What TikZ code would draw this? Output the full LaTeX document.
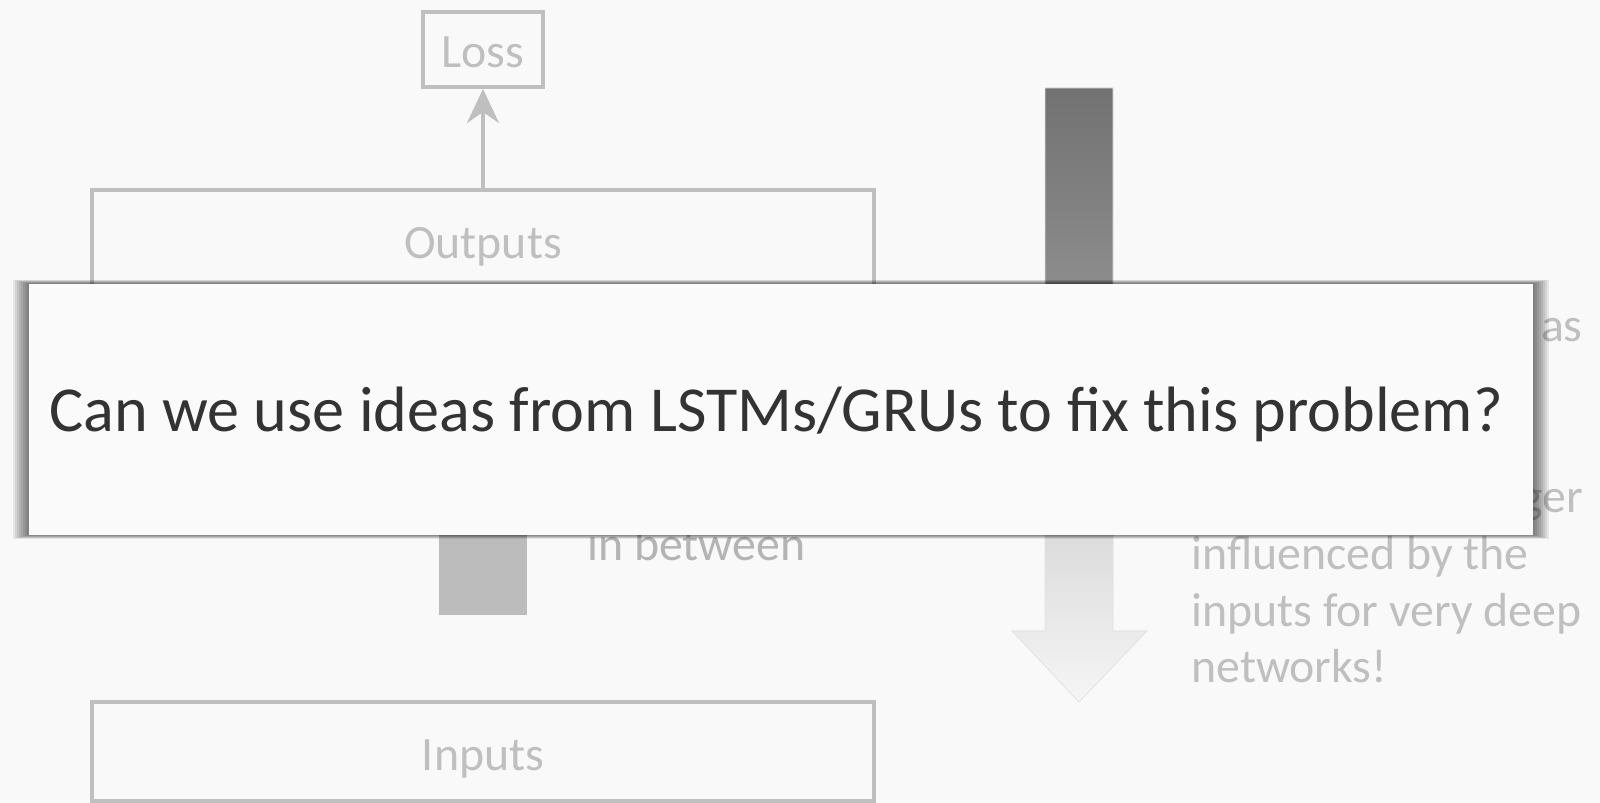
\documentclass[tikz,border=0pt]{standalone}
\usepackage{fontspec}
\setmainfont{Carlito}
\usetikzlibrary{positioning, arrows.meta}
\definecolor{slidebg}{HTML}{F9F9F9}
\definecolor{fadedgray}{HTML}{BFBFBF}
\definecolor{notegray}{HTML}{B4B4B4}
\definecolor{bargray}{HTML}{BCBCBC}
\definecolor{questionbg}{HTML}{FAFAFA}
\definecolor{questiontext}{HTML}{333333}
\definecolor{fadetop}{HTML}{727272}
\definecolor{fadeupper}{HTML}{8C8C8C}
\definecolor{fadelower}{HTML}{DCDCDC}
\definecolor{fadebottom}{HTML}{F5F5F5}
\pgfdeclareverticalshading{fadearrow}{100bp}{color(0bp)=(fadebottom); color(25bp)=(fadebottom); color(38.6bp)=(fadelower); color(59bp)=(fadeupper); color(75bp)=(fadetop); color(100bp)=(fadetop)}
\newcommand{\slidefont}{\fontsize{27.2}{32.3}\selectfont}
\tikzstyle{layerbox} = [rectangle, 
minimum width=15.64cm, 
minimum height=1.98cm, 
text centered, 
text height=22pt, 
text depth=0pt, 
draw=fadedgray, 
line width=0.08cm, 
text=fadedgray, 
font=\slidefont]
\tikzstyle{lossbox} = [rectangle, 
minimum width=2.40cm, 
minimum height=1.50cm, 
text centered, 
text height=20pt, 
text depth=0pt, 
draw=fadedgray, 
line width=0.08cm, 
text=fadedgray, 
font=\slidefont]
\tikzstyle{note} = [inner sep=0pt, 
text=fadedgray, 
font=\slidefont]
\tikzstyle{question} = [rectangle, 
minimum width=30.08cm, 
minimum height=5.02cm, 
text width=29.28cm, 
inner xsep=0.4cm, 
text depth=0pt, 
align=flush left, 
fill=questionbg, 
text=questiontext, 
font=\fontsize{36.5}{44}\selectfont]
\tikzstyle{arrow} = [line width=0.08cm, draw=fadedgray, -{Stealth[length=0.68cm, width=0.64cm, inset=0.22cm]}]

\begin{document}
\begin{tikzpicture}[x=0.02cm, y=-0.02cm]

\fill[slidebg] (0,0) rectangle (1600,803);
\useasboundingbox (0,0) rectangle (1600,803);

% Nodes
\node (outputs) [layerbox] at (483,239.5) {Outputs};
\node (loss) [lossbox, above=1.98cm of outputs] {Loss};
\node (inputs) [layerbox, below=8.18cm of outputs] {Inputs};
\node (between) [note, text=notegray, anchor=base west] at (587,561) {in between};

% Arrows
\draw [arrow] (outputs) -- (loss);

% bar and fading arrow
\fill[bargray] (439,500) rectangle (527,615);
\shade[shading=fadearrow, draw=black!12, line width=0.4pt] (1045,88) -- (1113,88) -- (1113,631) -- (1147,631) -- (1079,702) -- (1012,631) -- (1045,631) -- cycle;

% right notes
\node (notea) [note, anchor=base east] at (1583,342) {as};
\node (noteb) [note, anchor=base east] at (1583,513) {ger};
\node (notec) [note, align=flush left, anchor=base west] at (1191,683) {influenced by the\\inputs for very deep\\networks!};

% question on top
\foreach \s in {1,...,8}
  \fill[black, opacity=0.08] (29-2*\s,284-0.5*\s) rectangle (1533+2*\s,535+0.5*\s);
\node (ask) [question] at (781,409.5) {\mbox{Can we use ideas from LSTMs/GRUs to fix this problem?}};

\end{tikzpicture}
\end{document}
